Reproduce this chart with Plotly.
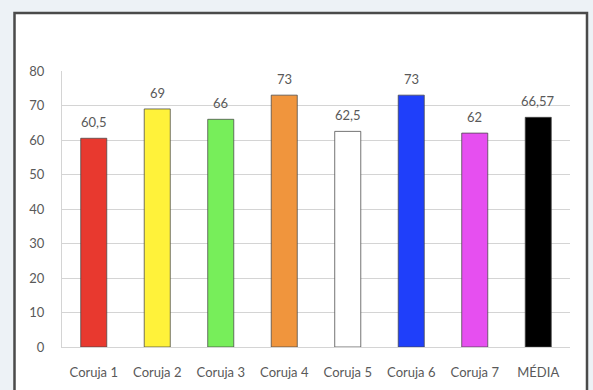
import plotly.graph_objects as go

categories = ["Coruja 1", "Coruja 2", "Coruja 3", "Coruja 4", "Coruja 5", "Coruja 6", "Coruja 7", "MÉDIA"]
values = [60.5, 69, 66, 73, 62.5, 73, 62, 66.57]
colors = ["#e8392f", "#fff23a", "#77ee5a", "#f0953d", "#ffffff", "#1f3ffa", "#e64ff0", "#000000"]
y_ticks = [0, 10, 20, 30, 40, 50, 60, 70, 80]

def fmt(v):
    s = ("%g" % v)
    return s.replace(".", ",")

labels = [fmt(v) for v in values]

W, H = 593, 390
L, R, T, B = 62, 23, 71, 43
pw, ph = W - L - R, H - T - B

def px_x(p):
    return (p - L) / pw

def px_y(p):
    return (H - B - p) / ph

font = dict(family="Lato, Open Sans, sans-serif", size=13, color="#595959")

fig = go.Figure()
fig.add_trace(go.Bar(
    x=categories, y=values,
    marker=dict(color=colors, line=dict(color="rgba(70,70,70,0.75)", width=1)),
    width=0.41, showlegend=False, hoverinfo="skip",
))

for c, v, t in zip(categories, values, labels):
    fig.add_annotation(x=c, y=v, text=t, showarrow=False, yanchor="middle",
                       yshift=16, font=font)

# white panel with dark frame
fig.add_shape(type="rect", xref="paper", yref="paper", layer="below",
              x0=px_x(14.5), x1=px_x(587), y0=px_y(400), y1=px_y(13),
              fillcolor="white", line=dict(color="#4a4a4a", width=2.5))

fig.update_layout(
    width=W, height=H,
    margin=dict(l=L, r=R, t=T, b=B, autoexpand=False),
    paper_bgcolor="#edf2f6", plot_bgcolor="rgba(0,0,0,0)",
    font=font,
    bargap=0.59,
    xaxis=dict(showgrid=False, showline=True, linecolor="#d4d4d4", linewidth=1,
               ticks="", tickfont=font, ticklabelstandoff=13, fixedrange=True),
    yaxis=dict(range=[0, 80], tickvals=y_ticks, showgrid=True, gridcolor="#d4d4d4",
               gridwidth=1, showline=True, linecolor="#d4d4d4", linewidth=1,
               zeroline=False, ticks="", tickfont=font, ticklabelstandoff=14,
               fixedrange=True),
)

fig.write_html("out.html")
